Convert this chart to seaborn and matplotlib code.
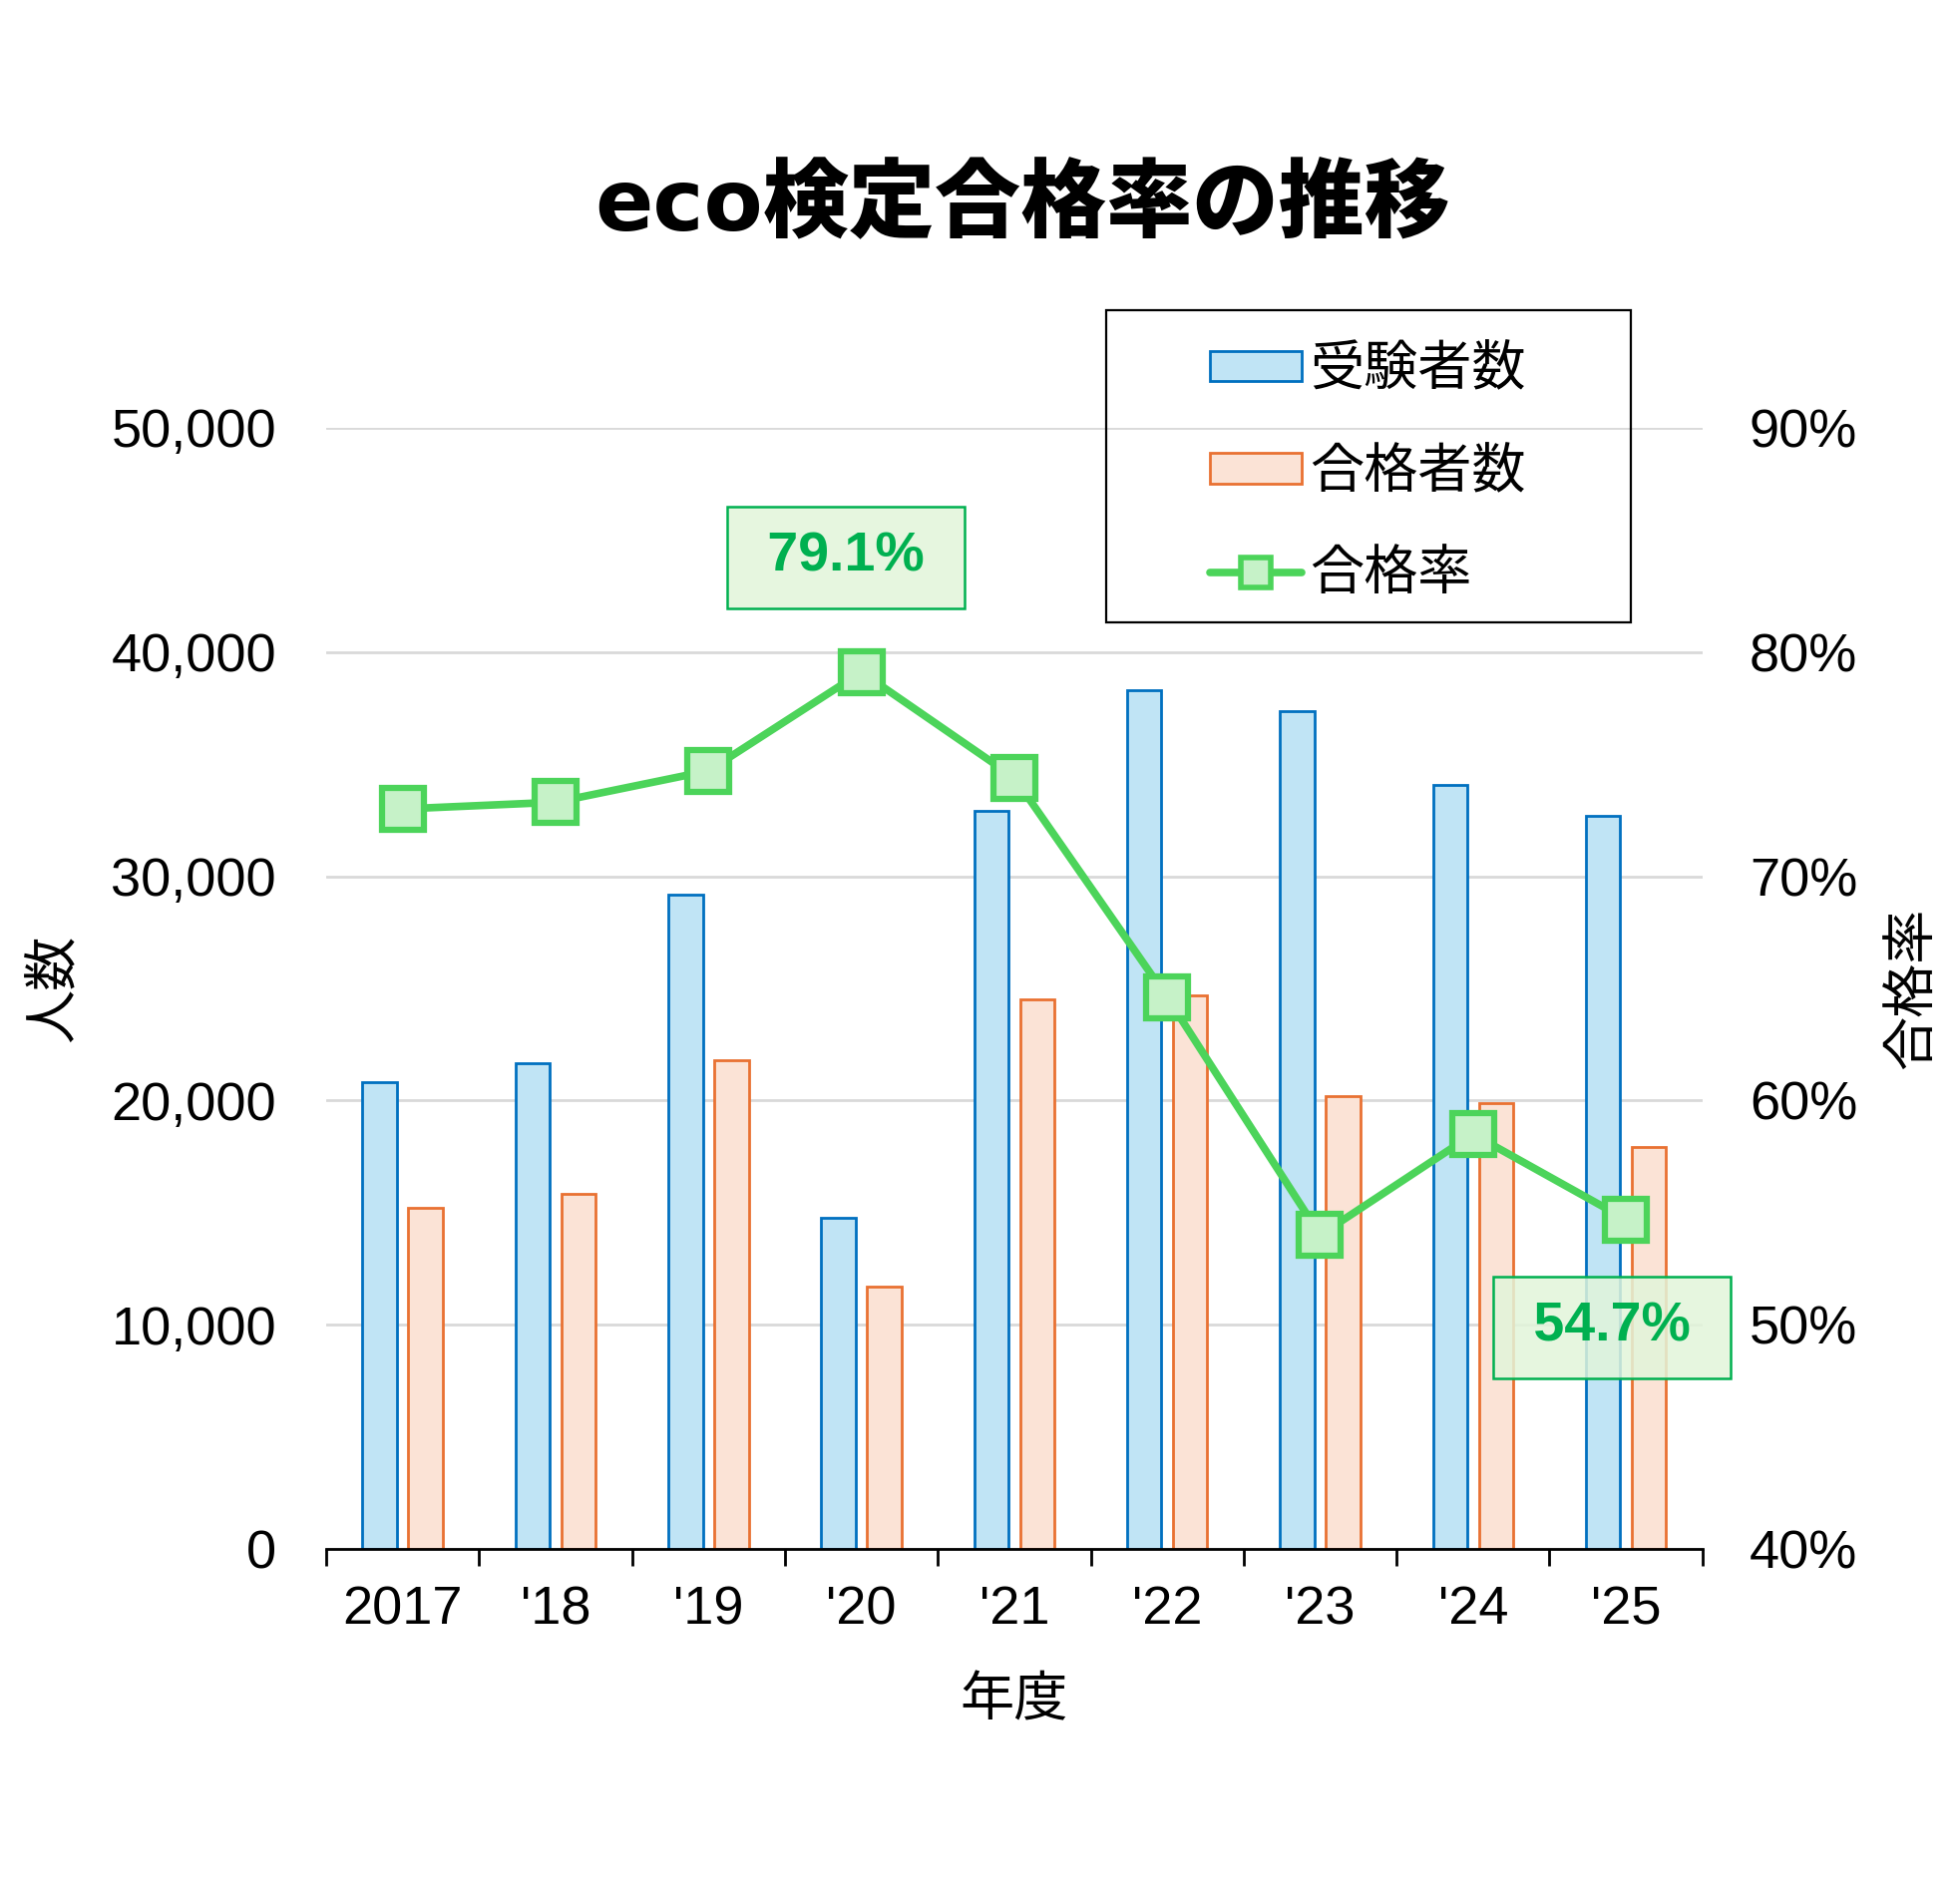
import numpy as np
import pandas as pd
import matplotlib
matplotlib.use("Agg")
import matplotlib.pyplot as plt
import seaborn as sns
from matplotlib.patches import Patch, Rectangle
from matplotlib.lines import Line2D
from matplotlib.colors import to_rgba
from matplotlib.ticker import FuncFormatter, MultipleLocator

# データ
年度 = ["2017", "'18", "'19", "'20", "'21", "'22", "'23", "'24", "'25"]
受験者数 = [20800, 21650, 29200, 14770, 32900, 38300, 37350, 34050, 32700]
合格者数 = [15200, 15830, 21800, 11700, 24500, 24700, 20200, 19900, 17950]
合格率 = [73.0, 73.3, 74.7, 79.1, 74.4, 64.6, 54.0, 58.5, 54.7]
系列 = ["受験者数", "合格者数"]

# 色
面色 = {"受験者数": "#C0E4F5", "合格者数": "#FBE3D6"}
線色 = {"受験者数": "#0070C0", "合格者数": "#E97132"}
緑 = "#4CD45A"
緑薄 = "#C6F2C8"
濃緑 = "#00B050"

sns.set_theme(style="white")
plt.rcParams["font.family"] = ["Liberation Sans", "Noto Sans CJK JP"]
plt.rcParams["text.color"] = "black"

df = pd.DataFrame({"年度": 年度 * 2,
                   "系列": [系列[0]] * len(年度) + [系列[1]] * len(年度),
                   "人数": 受験者数 + 合格者数})

fig = plt.figure(figsize=(19.62, 19.09), dpi=100)
ax = fig.add_axes([0.1667, 0.1864, 0.7032, 0.589])

sns.barplot(data=df, x="年度", y="人数", hue="系列", hue_order=系列,
            palette=面色, saturation=1, width=0.6, gap=0.25, ax=ax, legend=False)
for cont, name in zip(ax.containers, 系列):
    for bar in cont:
        bar.set_edgecolor(線色[name])
        bar.set_linewidth(2)

ax.set_xlim(-0.5, len(年度) - 0.5)
ax.set_ylim(0, 50000)
ax.yaxis.set_major_locator(MultipleLocator(10000))
ax.yaxis.set_major_formatter(FuncFormatter(lambda v, p: f"{int(v):,}"))
ax.grid(axis="y", color="#D9D9D9", lw=2)
ax.set_axisbelow(True)
for s in ["top", "left", "right"]:
    ax.spines[s].set_visible(False)
ax.spines["bottom"].set_color("black")
ax.spines["bottom"].set_linewidth(2)
ax.set_xticks(range(len(年度)))
ax.set_xticklabels(年度)
ax.set_xticks(np.arange(-0.5, len(年度), 1), minor=True)
ax.tick_params(axis="x", which="major", length=0, pad=26, labelsize=39, colors="black")
ax.tick_params(axis="x", which="minor", bottom=True, length=12, width=2, color="black")
ax.tick_params(axis="y", length=0, pad=36, labelsize=39, colors="black")
ax.set_xlabel("年度", fontsize=39, labelpad=30, color="black")
ax.set_ylabel("人数", fontsize=39, labelpad=22, color="black")

# 合格率（右軸）
ax2 = ax.twinx()
x位置 = np.arange(len(年度))
sns.lineplot(x=x位置, y=合格率, ax=ax2, color=緑, lw=5.5, marker="s",
             markersize=30, markerfacecolor=緑薄, markeredgecolor=緑,
             markeredgewidth=4.5, zorder=5)
ax2.set_ylim(40, 90)
ax2.yaxis.set_major_locator(MultipleLocator(10))
ax2.yaxis.set_major_formatter(FuncFormatter(lambda v, p: f"{int(v)}%"))
ax2.tick_params(axis="y", length=0, pad=34, labelsize=39, colors="black")
ax2.set_ylabel("合格率", fontsize=39, labelpad=22, color="black")
ax2.grid(False)
for s in ax2.spines.values():
    s.set_visible(False)

# 注記
箱 = dict(boxstyle="square,pad=0.45", facecolor=to_rgba("#E2F5DA", 0.85),
         edgecolor=濃緑, lw=1.8)
i_max = int(np.argmax(合格率))
ax2.annotate(f" {合格率[i_max]:.1f}% ", xy=(i_max, 合格率[i_max]),
             xytext=(-11, 83), textcoords="offset points", ha="center", va="center",
             fontsize=40, fontweight="bold", color=濃緑, bbox=箱, zorder=6)
i_last = len(合格率) - 1
ax2.annotate(f" {合格率[i_last]:.1f}% ", xy=(i_last, 合格率[i_last]),
             xytext=(-10, -78), textcoords="offset points", ha="center", va="center",
             fontsize=40, fontweight="bold", color=濃緑, bbox=箱, zorder=6,
             annotation_clip=False)

# 凡例
handles = [Patch(facecolor=面色[n], edgecolor=線色[n], lw=2) for n in 系列]
handles.append(Line2D([], [], color=緑, lw=5.5, marker="s", markersize=22,
                      markerfacecolor=緑薄, markeredgecolor=緑, markeredgewidth=4))
fig.legend(handles, 系列 + ["合格率"], loc="upper left",
           bbox_to_anchor=(0.6045, 0.8326), frameon=False, fontsize=39,
           borderpad=0, handlelength=1.7, handleheight=0.5,
           handletextpad=0.15, labelspacing=0.96)
fig.add_artist(Rectangle((0.5654, 0.6733), 0.268, 0.164, transform=fig.transFigure,
                         fill=False, edgecolor="black", lw=1.6))

fig.text(0.5224, 0.891, "eco検定合格率の推移", ha="center", va="center",
         fontsize=62, fontweight="black", color="black",
         family=["DejaVu Sans", "Noto Sans CJK JP"])

fig.savefig("out.png", dpi=100, facecolor="white")
